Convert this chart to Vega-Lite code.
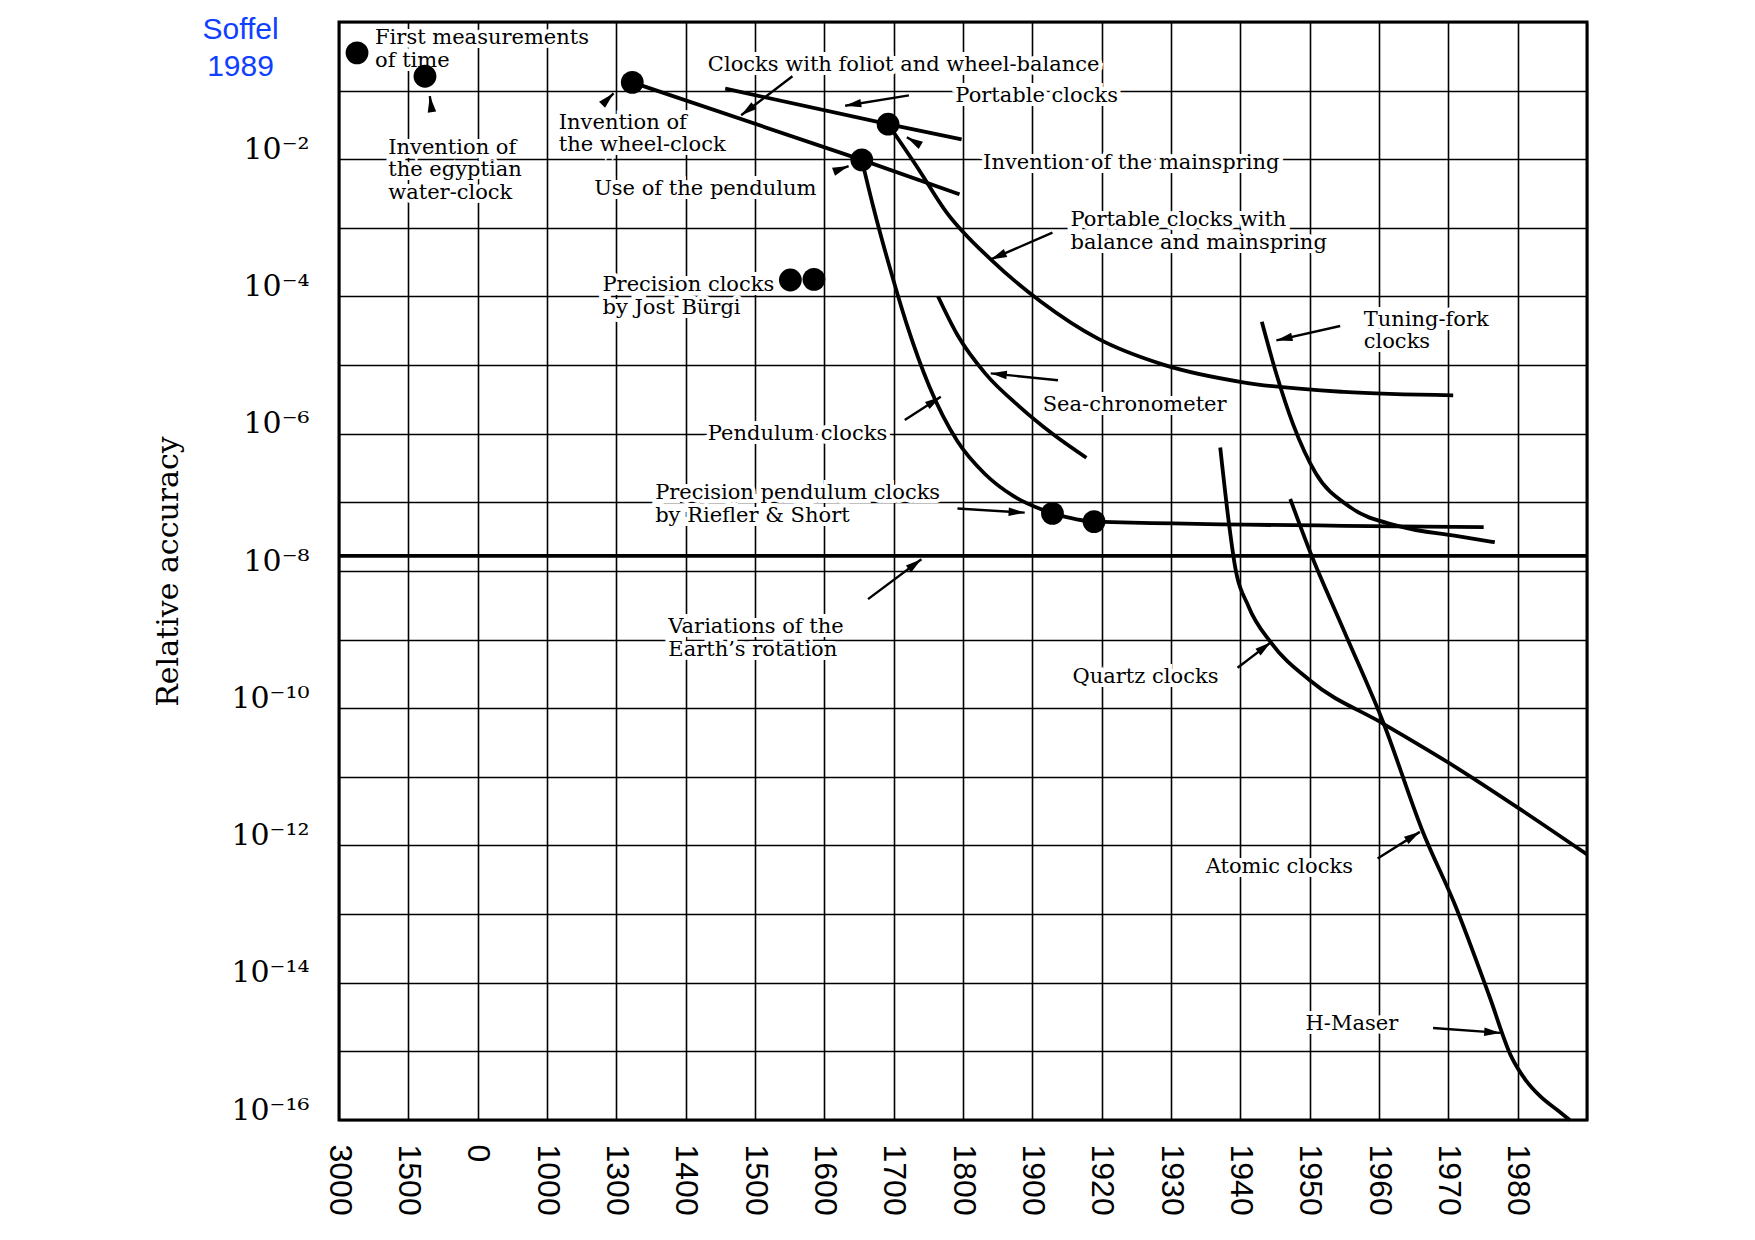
{
  "$schema": "https://vega.github.io/schema/vega-lite/v6.json",
  "width": 1248,
  "height": 1098,
  "autosize": {"type": "none"},
  "padding": {"left": 339, "top": 22, "right": 168, "bottom": 120},
  "background": "white",
  "config": {
    "view": {"stroke": "black", "strokeWidth": 3},
    "axis": {"labelColor": "black", "titleColor": "black"}
  },
  "datasets": {
    "curves": [
      {"series": "Clocks with foliot and wheel-balance", "x": 4.23, "y": 0.132},
      {"series": "Clocks with foliot and wheel-balance", "x": 7.54, "y": 0.0098},
      {"series": "Clocks with foliot and wheel-balance", "x": 8.95, "y": 0.00309},
      {"series": "Portable clocks", "x": 5.57, "y": 0.107},
      {"series": "Portable clocks", "x": 7.92, "y": 0.0324},
      {"series": "Portable clocks", "x": 8.98, "y": 0.0195},
      {"series": "Pendulum clocks", "x": 7.54, "y": 0.0098},
      {"series": "Pendulum clocks", "x": 7.71, "y": 0.00195},
      {"series": "Pendulum clocks", "x": 7.95, "y": 0.000251},
      {"series": "Pendulum clocks", "x": 8.19, "y": 3.89e-5},
      {"series": "Pendulum clocks", "x": 8.51, "y": 5.01e-6},
      {"series": "Pendulum clocks", "x": 8.92, "y": 7.76e-7},
      {"series": "Pendulum clocks", "x": 9.32, "y": 2.57e-7},
      {"series": "Pendulum clocks", "x": 9.73, "y": 1.23e-7},
      {"series": "Pendulum clocks", "x": 10.29, "y": 6.92e-8},
      {"series": "Precision pendulum clocks", "x": 10.29, "y": 6.92e-8},
      {"series": "Precision pendulum clocks", "x": 10.89, "y": 5.25e-8},
      {"series": "Precision pendulum clocks", "x": 16.51, "y": 4.37e-8},
      {"series": "Portable clocks with balance and mainspring", "x": 7.92, "y": 0.0324},
      {"series": "Portable clocks with balance and mainspring", "x": 8.35, "y": 0.00741},
      {"series": "Portable clocks with balance and mainspring", "x": 8.76, "y": 0.0017},
      {"series": "Portable clocks with balance and mainspring", "x": 9.4, "y": 0.000347},
      {"series": "Portable clocks with balance and mainspring", "x": 10.13, "y": 8.32e-5},
      {"series": "Portable clocks with balance and mainspring", "x": 10.94, "y": 2.45e-5},
      {"series": "Portable clocks with balance and mainspring", "x": 11.91, "y": 1.0e-5},
      {"series": "Portable clocks with balance and mainspring", "x": 13.04, "y": 5.62e-6},
      {"series": "Portable clocks with balance and mainspring", "x": 14.49, "y": 4.07e-6},
      {"series": "Portable clocks with balance and mainspring", "x": 16.07, "y": 3.63e-6},
      {"series": "Sea-chronometer", "x": 8.64, "y": 1.0e-4},
      {"series": "Sea-chronometer", "x": 8.92, "y": 2.75e-5},
      {"series": "Sea-chronometer", "x": 9.32, "y": 7.59e-6},
      {"series": "Sea-chronometer", "x": 9.81, "y": 2.51e-6},
      {"series": "Sea-chronometer", "x": 10.29, "y": 1.0e-6},
      {"series": "Sea-chronometer", "x": 10.78, "y": 4.47e-7},
      {"series": "Tuning-fork clocks", "x": 13.31, "y": 4.27e-5},
      {"series": "Tuning-fork clocks", "x": 13.52, "y": 7.41e-6},
      {"series": "Tuning-fork clocks", "x": 13.76, "y": 1.38e-6},
      {"series": "Tuning-fork clocks", "x": 14.09, "y": 2.63e-7},
      {"series": "Tuning-fork clocks", "x": 14.57, "y": 8.71e-8},
      {"series": "Tuning-fork clocks", "x": 15.3, "y": 4.47e-8},
      {"series": "Tuning-fork clocks", "x": 16.11, "y": 3.24e-8},
      {"series": "Tuning-fork clocks", "x": 16.67, "y": 2.63e-8},
      {"series": "Variations of the Earth's rotation", "x": 0, "y": 1.66e-8},
      {"series": "Variations of the Earth's rotation", "x": 18, "y": 1.66e-8},
      {"series": "Quartz clocks", "x": 12.71, "y": 6.31e-7},
      {"series": "Quartz clocks", "x": 12.83, "y": 5.5e-8},
      {"series": "Quartz clocks", "x": 12.92, "y": 1.23e-8},
      {"series": "Quartz clocks", "x": 13.12, "y": 3.02e-9},
      {"series": "Quartz clocks", "x": 13.44, "y": 9.12e-10},
      {"series": "Quartz clocks", "x": 14.01, "y": 2.51e-10},
      {"series": "Quartz clocks", "x": 15.07, "y": 5.89e-11},
      {"series": "Quartz clocks", "x": 16.11, "y": 1.38e-11},
      {"series": "Quartz clocks", "x": 17.08, "y": 3.16e-12},
      {"series": "Quartz clocks", "x": 18.0, "y": 7.41e-13},
      {"series": "Atomic clocks", "x": 13.72, "y": 1.12e-7},
      {"series": "Atomic clocks", "x": 14.01, "y": 1.86e-8},
      {"series": "Atomic clocks", "x": 14.49, "y": 1.38e-9},
      {"series": "Atomic clocks", "x": 15.07, "y": 5.89e-11},
      {"series": "Atomic clocks", "x": 15.62, "y": 1.7e-12},
      {"series": "Atomic clocks", "x": 16.11, "y": 1.26e-13},
      {"series": "Atomic clocks", "x": 16.59, "y": 6.46e-15},
      {"series": "Atomic clocks", "x": 16.91, "y": 8.32e-16},
      {"series": "Atomic clocks", "x": 17.11, "y": 3.89e-16},
      {"series": "Atomic clocks", "x": 17.32, "y": 2.24e-16},
      {"series": "Atomic clocks", "x": 17.59, "y": 1.35e-16},
      {"series": "Atomic clocks", "x": 17.75, "y": 1.0e-16}
    ],
    "dots": [
      {"event": "First measurements of time", "x": 0.26, "y": 0.355},
      {"event": "Invention of the egyptian water-clock", "x": 1.24, "y": 0.162},
      {"event": "Invention of the wheel-clock", "x": 4.23, "y": 0.132},
      {"event": "Invention of the mainspring", "x": 7.92, "y": 0.0324},
      {"event": "Use of the pendulum", "x": 7.54, "y": 0.0098},
      {"event": "Precision clocks by Jost Bürgi (1)", "x": 6.51, "y": 0.000174},
      {"event": "Precision clocks by Jost Bürgi (2)", "x": 6.85, "y": 0.000178},
      {"event": "Riefler", "x": 10.29, "y": 6.92e-8},
      {"event": "Short", "x": 10.89, "y": 5.25e-8}
    ],
    "labels": [
      {"label": "First measurements\nof time", "x": 0.52, "y": 0.582},
      {"label": "Invention of\nthe egyptian\nwater-clock", "x": 0.71, "y": 0.0148},
      {"label": "Invention of\nthe wheel-clock", "x": 3.17, "y": 0.0339},
      {"label": "Clocks with foliot and wheel-balance", "x": 5.32, "y": 0.24},
      {"label": "Portable clocks", "x": 8.89, "y": 0.0832},
      {"label": "Invention of the mainspring", "x": 9.29, "y": 0.0087},
      {"label": "Use of the pendulum", "x": 3.68, "y": 0.00363},
      {"label": "Portable clocks with\nbalance and mainspring", "x": 10.55, "y": 0.00129},
      {"label": "Precision clocks\nby Jost Bürgi", "x": 3.8, "y": 0.000145},
      {"label": "Tuning-fork\nclocks", "x": 14.78, "y": 4.57e-5},
      {"label": "Sea-chronometer", "x": 10.15, "y": 2.63e-6},
      {"label": "Pendulum clocks", "x": 5.32, "y": 9.77e-7},
      {"label": "Precision pendulum clocks\nby Riefler & Short", "x": 4.56, "y": 1.35e-7},
      {"label": "Variations of the\nEarth’s rotation", "x": 4.75, "y": 1.51e-9},
      {"label": "Quartz clocks", "x": 10.58, "y": 2.82e-10},
      {"label": "Atomic clocks", "x": 12.5, "y": 4.9e-13},
      {"label": "H-Maser", "x": 13.94, "y": 2.51e-15}
    ],
    "arrows": [
      {"target": "Egyptian water-clock", "x": 1.34, "y": 0.049, "x2": 1.31, "y2": 0.0832},
      {"target": "Wheel-clock", "x": 3.83, "y": 0.0676, "x2": 3.96, "y2": 0.0912},
      {"target": "Foliot", "x": 6.54, "y": 0.162, "x2": 5.8, "y2": 0.0437},
      {"target": "Portable clocks", "x": 8.22, "y": 0.0851, "x2": 7.3, "y2": 0.0603},
      {"target": "Mainspring", "x": 8.38, "y": 0.0162, "x2": 8.19, "y2": 0.0209},
      {"target": "Pendulum", "x": 7.14, "y": 0.0066, "x2": 7.35, "y2": 0.00794},
      {"target": "Balance and mainspring", "x": 10.29, "y": 0.000851, "x2": 9.4, "y2": 0.000347},
      {"target": "Tuning-fork", "x": 14.44, "y": 3.72e-5, "x2": 13.52, "y2": 2.29e-5},
      {"target": "Sea-chronometer", "x": 10.37, "y": 6.03e-6, "x2": 9.4, "y2": 7.59e-6},
      {"target": "Pendulum clocks", "x": 8.16, "y": 1.58e-6, "x2": 8.68, "y2": 3.47e-6},
      {"target": "Riefler & Short", "x": 8.92, "y": 8.13e-8, "x2": 9.89, "y2": 7.08e-8},
      {"target": "Earth's rotation", "x": 7.63, "y": 3.89e-9, "x2": 8.4, "y2": 1.48e-8},
      {"target": "Quartz", "x": 12.96, "y": 3.89e-10, "x2": 13.44, "y2": 9.12e-10},
      {"target": "Atomic", "x": 14.98, "y": 6.46e-13, "x2": 15.59, "y2": 1.58e-12},
      {"target": "H-Maser", "x": 15.78, "y": 2.19e-15, "x2": 16.75, "y2": 1.86e-15}
    ]
  },
  "layer": [
    {
      "data": {"name": "labels"},
      "mark": {"type": "text", "align": "left", "baseline": "middle", "font": "DejaVu Serif", "fontSize": 21, "lineBreak": "\n", "lineHeight": 22.5, "color": "white", "stroke": "white", "strokeWidth": 8},
      "encoding": {
        "x": {
          "field": "x", "type": "quantitative",
          "scale": {"domain": [0, 18], "nice": false, "zero": false},
          "axis": {
            "title": null,
            "values": [0, 1, 2, 3, 4, 5, 6, 7, 8, 9, 10, 11, 12, 13, 14, 15, 16, 17, 18],
            "labelExpr": "['3000','1500','0','1000','1300','1400','1500','1600','1700','1800','1900','1920','1930','1940','1950','1960','1970','1980',''][datum.value]",
            "labelAngle": 90, "labelAlign": "left", "labelBaseline": "middle",
            "labelFont": "Liberation Sans", "labelFontSize": 32, "labelPadding": 24,
            "labelFlush": false, "labelOverlap": false, "labelBound": false,
            "ticks": false, "domain": false,
            "grid": true, "gridColor": "black", "gridWidth": 1.6, "gridOpacity": 1
          }
        },
        "y": {
          "field": "y", "type": "quantitative",
          "scale": {"type": "log", "domain": [1e-16, 1], "nice": false},
          "axis": {
            "title": "Relative accuracy",
            "titleFont": "DejaVu Serif", "titleFontSize": 30, "titleFontWeight": "normal",
            "titleX": -171, "titleY": 549, "titleAngle": -90, "titleAlign": "center", "titleBaseline": "middle",
            "values": [1e-16, 1e-15, 1e-14, 1e-13, 1e-12, 1e-11, 1e-10, 1e-9, 1e-8, 1e-7, 1e-6, 1e-5, 1e-4, 0.001, 0.01, 0.1, 1],
            "labelExpr": "['','','10⁻²','','10⁻⁴','','10⁻⁶','','10⁻⁸','','10⁻¹⁰','','10⁻¹²','','10⁻¹⁴','','10⁻¹⁶'][round(-log(datum.value)/LN10)]",
            "labelFont": "DejaVu Serif", "labelFontSize": 30, "labelPadding": 30, "labelOffset": -10,
            "labelFlush": false, "labelOverlap": false, "labelBound": false,
            "ticks": false, "domain": false,
            "grid": true, "gridColor": "black", "gridWidth": 1.6, "gridOpacity": 1
          }
        },
        "text": {"field": "label", "type": "nominal"}
      }
    },
    {
      "data": {"name": "curves"},
      "mark": {"type": "line", "color": "black", "strokeWidth": 3.8, "interpolate": "monotone"},
      "encoding": {
        "x": {"field": "x", "type": "quantitative"},
        "y": {"field": "y", "type": "quantitative"},
        "detail": {"field": "series", "type": "nominal"}
      }
    },
    {
      "data": {"name": "dots"},
      "mark": {"type": "point", "filled": true, "color": "black", "opacity": 1, "size": 520},
      "encoding": {
        "x": {"field": "x", "type": "quantitative"},
        "y": {"field": "y", "type": "quantitative"}
      }
    },
    {
      "data": {"name": "arrows"},
      "mark": {"type": "rule", "color": "black", "strokeWidth": 2.4},
      "encoding": {
        "x": {"field": "x", "type": "quantitative"},
        "y": {"field": "y", "type": "quantitative"},
        "x2": {"field": "x2"},
        "y2": {"field": "y2"}
      }
    },
    {
      "data": {"name": "arrows"},
      "transform": [
        {"calculate": "atan2((datum.x2 - datum.x) * 69.33, (log(datum.y2) - log(datum.y)) / LN10 * 68.625) * 180 / PI", "as": "ang"}
      ],
      "mark": {"type": "point", "shape": "M0,0L-0.45,1.7L0.45,1.7Z", "filled": true, "color": "black", "opacity": 1, "size": 360},
      "encoding": {
        "x": {"field": "x2", "type": "quantitative"},
        "y": {"field": "y2", "type": "quantitative"},
        "angle": {"field": "ang", "type": "quantitative", "scale": null}
      }
    },
    {
      "data": {"name": "labels"},
      "mark": {"type": "text", "align": "left", "baseline": "middle", "font": "DejaVu Serif", "fontSize": 21, "lineBreak": "\n", "lineHeight": 22.5, "color": "black"},
      "encoding": {
        "x": {"field": "x", "type": "quantitative"},
        "y": {"field": "y", "type": "quantitative"},
        "text": {"field": "label", "type": "nominal"}
      }
    },
    {
      "data": {"values": [{"note": "Soffel\n1989", "x": -1.42, "y": 0.764}]},
      "mark": {"type": "text", "align": "center", "baseline": "middle", "font": "Liberation Sans", "fontSize": 30, "lineBreak": "\n", "lineHeight": 37, "color": "#1040ff"},
      "encoding": {
        "x": {"field": "x", "type": "quantitative"},
        "y": {"field": "y", "type": "quantitative"},
        "text": {"field": "note", "type": "nominal"}
      }
    }
  ]
}
